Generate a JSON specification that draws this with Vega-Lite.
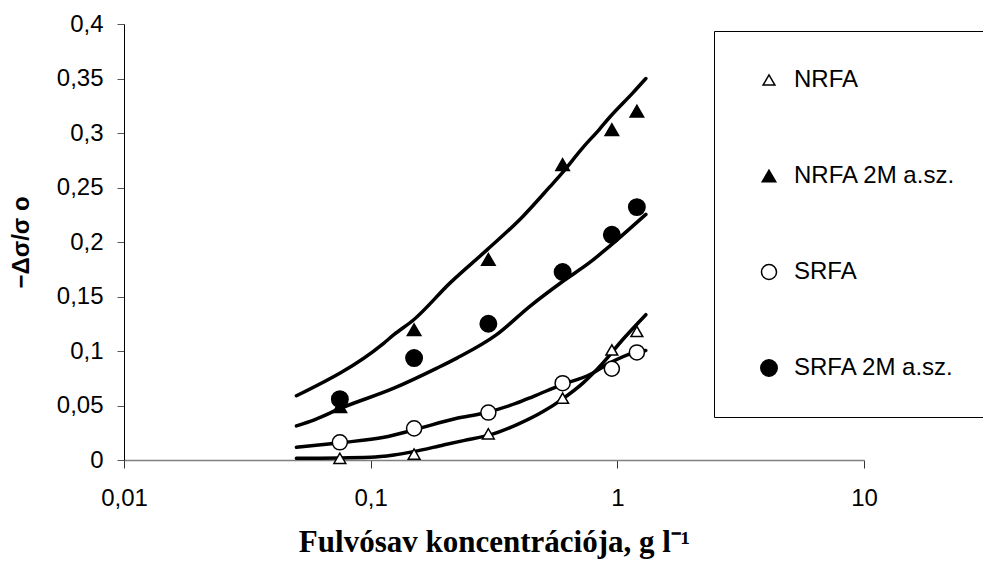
{
  "$schema": "https://vega.github.io/schema/vega-lite/v6.json",
  "width": 740,
  "height": 436,
  "autosize": {"type": "none"},
  "padding": {"left": 124, "top": 24, "right": 119, "bottom": 117},
  "background": "white",
  "config": {"view": {"stroke": null}, "font": "Liberation Sans"},
  "datasets": {
    "points": [
      {"series": "NRFA", "c": 0.075, "v": 0.0015},
      {"series": "NRFA", "c": 0.15, "v": 0.0055},
      {"series": "NRFA", "c": 0.3, "v": 0.024},
      {"series": "NRFA", "c": 0.6, "v": 0.0567},
      {"series": "NRFA", "c": 0.95, "v": 0.101},
      {"series": "NRFA", "c": 1.2, "v": 0.118},
      {"series": "NRFA 2M a.sz.", "c": 0.075, "v": 0.049},
      {"series": "NRFA 2M a.sz.", "c": 0.15, "v": 0.1195},
      {"series": "NRFA 2M a.sz.", "c": 0.3, "v": 0.184},
      {"series": "NRFA 2M a.sz.", "c": 0.6, "v": 0.271},
      {"series": "NRFA 2M a.sz.", "c": 0.95, "v": 0.303},
      {"series": "NRFA 2M a.sz.", "c": 1.2, "v": 0.32},
      {"series": "SRFA", "c": 0.075, "v": 0.0162},
      {"series": "SRFA", "c": 0.15, "v": 0.029},
      {"series": "SRFA", "c": 0.3, "v": 0.0435},
      {"series": "SRFA", "c": 0.6, "v": 0.0705},
      {"series": "SRFA", "c": 0.95, "v": 0.0837},
      {"series": "SRFA", "c": 1.2, "v": 0.0987},
      {"series": "SRFA 2M a.sz.", "c": 0.075, "v": 0.0558},
      {"series": "SRFA 2M a.sz.", "c": 0.15, "v": 0.0935},
      {"series": "SRFA 2M a.sz.", "c": 0.3, "v": 0.125},
      {"series": "SRFA 2M a.sz.", "c": 0.6, "v": 0.1725},
      {"series": "SRFA 2M a.sz.", "c": 0.95, "v": 0.2066},
      {"series": "SRFA 2M a.sz.", "c": 1.2, "v": 0.232}
    ],
    "fits": [
      {"series": "NRFA 2M a.sz.", "c": 0.05, "v": 0.0589},
      {"series": "NRFA 2M a.sz.", "c": 0.1132, "v": 0.1073},
      {"series": "NRFA 2M a.sz.", "c": 0.1242, "v": 0.115},
      {"series": "NRFA 2M a.sz.", "c": 0.1495, "v": 0.1287},
      {"series": "NRFA 2M a.sz.", "c": 0.21, "v": 0.1625},
      {"series": "NRFA 2M a.sz.", "c": 0.297, "v": 0.193},
      {"series": "NRFA 2M a.sz.", "c": 0.415, "v": 0.2237},
      {"series": "NRFA 2M a.sz.", "c": 0.532, "v": 0.2505},
      {"series": "NRFA 2M a.sz.", "c": 0.593, "v": 0.2625},
      {"series": "NRFA 2M a.sz.", "c": 0.725, "v": 0.2866},
      {"series": "NRFA 2M a.sz.", "c": 0.846, "v": 0.3034},
      {"series": "NRFA 2M a.sz.", "c": 0.929, "v": 0.3142},
      {"series": "NRFA 2M a.sz.", "c": 1.153, "v": 0.3366},
      {"series": "NRFA 2M a.sz.", "c": 1.305, "v": 0.35},
      {"series": "SRFA 2M a.sz.", "c": 0.05, "v": 0.0313},
      {"series": "SRFA 2M a.sz.", "c": 0.0591, "v": 0.0368},
      {"series": "SRFA 2M a.sz.", "c": 0.0757, "v": 0.0475},
      {"series": "SRFA 2M a.sz.", "c": 0.1242, "v": 0.0659},
      {"series": "SRFA 2M a.sz.", "c": 0.1857, "v": 0.0843},
      {"series": "SRFA 2M a.sz.", "c": 0.2236, "v": 0.0935},
      {"series": "SRFA 2M a.sz.", "c": 0.324, "v": 0.115},
      {"series": "SRFA 2M a.sz.", "c": 0.442, "v": 0.141},
      {"series": "SRFA 2M a.sz.", "c": 0.602, "v": 0.164},
      {"series": "SRFA 2M a.sz.", "c": 0.771, "v": 0.181},
      {"series": "SRFA 2M a.sz.", "c": 0.929, "v": 0.196},
      {"series": "SRFA 2M a.sz.", "c": 1.305, "v": 0.2253},
      {"series": "SRFA", "c": 0.05, "v": 0.0116},
      {"series": "SRFA", "c": 0.0757, "v": 0.0159},
      {"series": "SRFA", "c": 0.1132, "v": 0.0208},
      {"series": "SRFA", "c": 0.1495, "v": 0.0276},
      {"series": "SRFA", "c": 0.2236, "v": 0.0383},
      {"series": "SRFA", "c": 0.2864, "v": 0.0429},
      {"series": "SRFA", "c": 0.39, "v": 0.0521},
      {"series": "SRFA", "c": 0.4557, "v": 0.0582},
      {"series": "SRFA", "c": 0.593, "v": 0.069},
      {"series": "SRFA", "c": 0.771, "v": 0.0782},
      {"series": "SRFA", "c": 0.929, "v": 0.0889},
      {"series": "SRFA", "c": 1.153, "v": 0.0981},
      {"series": "SRFA", "c": 1.305, "v": 0.1005},
      {"series": "NRFA", "c": 0.05, "v": 0.0015},
      {"series": "NRFA", "c": 0.1, "v": 0.0025},
      {"series": "NRFA", "c": 0.1242, "v": 0.0046},
      {"series": "NRFA", "c": 0.1495, "v": 0.0077},
      {"series": "NRFA", "c": 0.1976, "v": 0.0138},
      {"series": "NRFA", "c": 0.2379, "v": 0.0178},
      {"series": "NRFA", "c": 0.305, "v": 0.023},
      {"series": "NRFA", "c": 0.39, "v": 0.0322},
      {"series": "NRFA", "c": 0.5, "v": 0.0444},
      {"series": "NRFA", "c": 0.593, "v": 0.0552},
      {"series": "NRFA", "c": 0.725, "v": 0.0705},
      {"series": "NRFA", "c": 0.873, "v": 0.0889},
      {"series": "NRFA", "c": 1.05, "v": 0.1103},
      {"series": "NRFA", "c": 1.305, "v": 0.1333}
    ]
  },
  "encoding": {
    "x": {
      "field": "c",
      "type": "quantitative",
      "scale": {"type": "log", "domain": [0.01, 10]},
      "axis": {
        "values": [0.01, 0.1, 1, 10],
        "labelExpr": "replace(format(datum.value, '~g'), '.', ',')",
        "grid": false,
        "domainColor": "#808080",
        "domainWidth": 1.5,
        "tickColor": "#333333",
        "tickSize": 8,
        "labelPadding": 18,
        "labelFont": "Liberation Sans",
        "labelFontSize": 24,
        "labelColor": "black",
        "labelFlush": false,
        "labelOverlap": false,
        "title": "Fulvósav koncentrációja, g l⁻¹",
        "titleFont": "Liberation Serif",
        "titleFontSize": 31,
        "titleFontWeight": "bold",
        "titleColor": "black",
        "titleX": 370,
        "titleY": 91,
        "titleAlign": "center",
        "titleBaseline": "alphabetic"
      }
    },
    "y": {
      "field": "v",
      "type": "quantitative",
      "scale": {"domain": [0, 0.4], "nice": false},
      "axis": {
        "values": [0, 0.05, 0.1, 0.15, 0.2, 0.25, 0.3, 0.35, 0.4],
        "labelExpr": "replace(format(datum.value, '.2~f'), '.', ',')",
        "grid": false,
        "domainColor": "black",
        "tickColor": "#555555",
        "tickSize": 7,
        "labelPadding": 14,
        "labelFont": "Liberation Sans",
        "labelFontSize": 24,
        "labelColor": "black",
        "title": "−Δσ/σ o",
        "titleFont": "Liberation Sans",
        "titleFontSize": 24,
        "titleFontWeight": "bold",
        "titleColor": "black",
        "titleAngle": -90,
        "titleX": -96,
        "titleY": 218,
        "titleAlign": "center",
        "titleBaseline": "alphabetic"
      }
    }
  },
  "layer": [
    {
      "data": {"name": "fits"},
      "mark": {"type": "line", "color": "black", "strokeWidth": 3.5, "interpolate": "monotone", "strokeCap": "round"},
      "encoding": {"detail": {"field": "series", "type": "nominal"}}
    },
    {
      "data": {"name": "points"},
      "mark": {"type": "point", "filled": true, "opacity": 1, "stroke": "black", "strokeWidth": 1.5},
      "encoding": {
        "shape": {
          "field": "series",
          "type": "nominal",
          "scale": {"domain": ["NRFA", "NRFA 2M a.sz.", "SRFA", "SRFA 2M a.sz."], "range": ["triangle-up", "triangle-up", "circle", "circle"]},
          "legend": {
            "title": null,
            "orient": "none",
            "legendX": 590,
            "legendY": 7,
            "strokeColor": "black",
            "fillColor": "white",
            "padding": 37,
            "rowPadding": 72,
            "labelFont": "Liberation Sans",
            "labelFontSize": 24,
            "labelColor": "black",
            "labelOffset": 13,
            "symbolOffset": 6,
            "labelLimit": 500,
            "labelExpr": "datum.label + '      '",
            "symbolStrokeColor": "black",
            "symbolStrokeWidth": 1.5
          }
        },
        "fill": {
          "field": "series",
          "type": "nominal",
          "scale": {"domain": ["NRFA", "NRFA 2M a.sz.", "SRFA", "SRFA 2M a.sz."], "range": ["white", "black", "white", "black"]}
        },
        "size": {
          "field": "series",
          "type": "nominal",
          "scale": {"domain": ["NRFA", "NRFA 2M a.sz.", "SRFA", "SRFA 2M a.sz."], "range": [140, 270, 95, 250]}
        }
      }
    }
  ]
}
